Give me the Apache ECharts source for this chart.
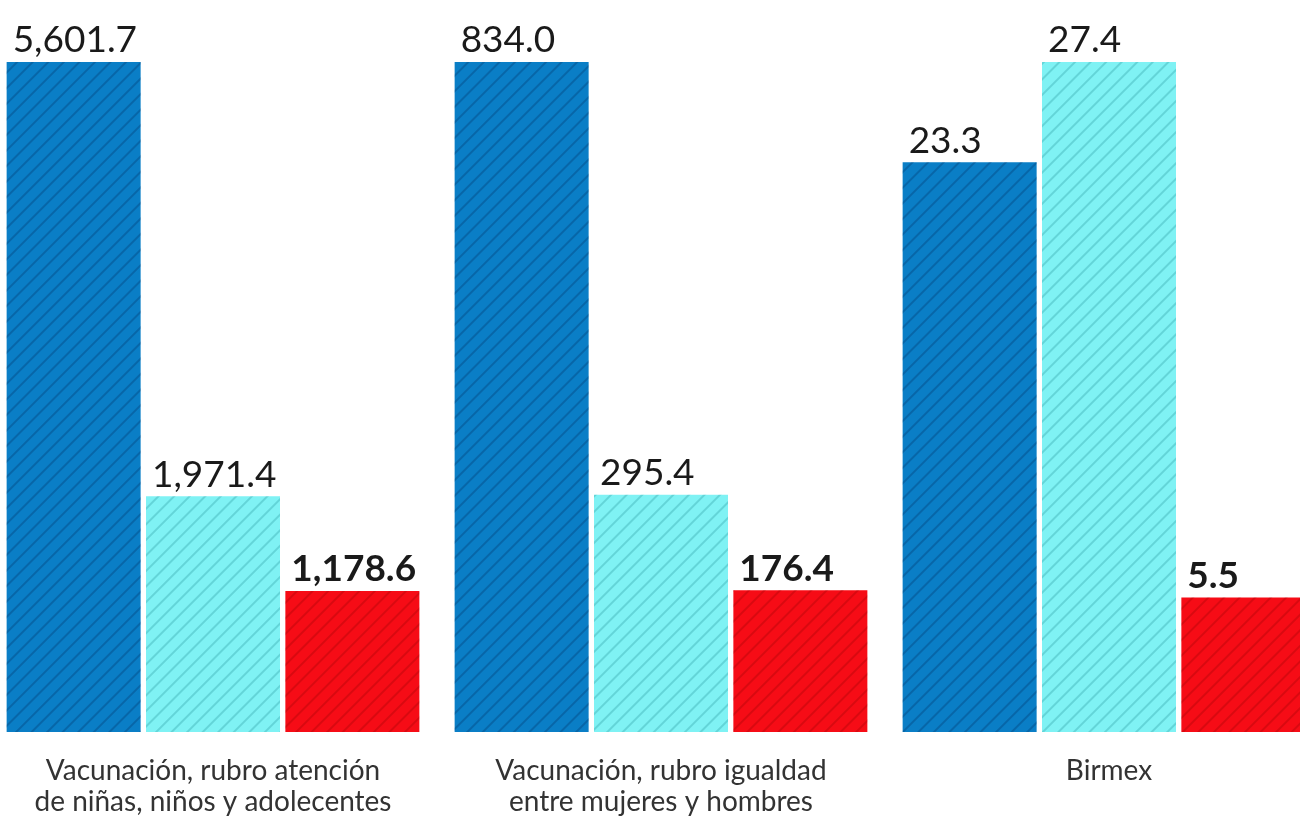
<!DOCTYPE html>
<html>
<head>
<meta charset="utf-8">
<script src="https://cdn.jsdelivr.net/npm/echarts@6/dist/echarts.min.js"></script>
<style>
  html, body { margin: 0; padding: 0; background: #fff; }
  #chart { width: 1300px; height: 820px; }
</style>
</head>
<body>
<div id="chart"></div>
<script>
// groups (each drawn on its own scale)
const categories = [
    'Vacunación, rubro atención\nde niñas, niños y adolecentes',
    'Vacunación, rubro igualdad\nentre mujeres y hombres',
    'Birmex'
];
const serieA = [5601.7, 834.0, 23.3];
const serieB = [1971.4, 295.4, 27.4];
const serieC = [1178.6, 176.4, 5.5];

const colors = ['#0a7ec6', '#7ff2f4', '#f60c16'];
const hatch = ['rgba(0,40,90,0.28)', 'rgba(0,110,120,0.22)', 'rgba(130,0,0,0.25)'];
// third group runs off the right edge, so its grid is centred on the bars
const gridBox = [[8, 410], [456, 410], [918, 382]];

function fmt(v) {
    return v.toLocaleString('en-US', { minimumFractionDigits: 1, maximumFractionDigits: 1 });
}

function initChart(dom) {
    let chart = echarts.init(dom);
    let grids = [], xAxes = [], yAxes = [], series = [];
    let values = [serieA, serieB, serieC];

    categories.forEach(function (cat, g) {
        grids.push({ left: gridBox[g][0], width: gridBox[g][1], top: 62, height: 670 });
        xAxes.push({
            type: 'category', gridIndex: g, data: [cat],
            axisLine: { show: false }, axisTick: { show: false },
            axisLabel: {
                margin: 23, fontSize: 28, lineHeight: 31, color: '#333',
                fontFamily: 'Lato', interval: 0
            }
        });
        yAxes.push({
            type: 'value', gridIndex: g, min: 0,
            max: Math.max(serieA[g], serieB[g], serieC[g]),
            show: false, splitLine: { show: false }
        });
        values.forEach(function (vals, s) {
            series.push({
                type: 'bar', xAxisIndex: g, yAxisIndex: g,
                barWidth: 134, barGap: '4%',
                clip: false,
                data: [vals[g]],
                itemStyle: {
                    color: colors[s],
                    decal: {
                        color: hatch[s],
                        dashArrayX: [1, 0],
                        dashArrayY: [2, 9],
                        rotation: -Math.PI / 4
                    }
                },
                label: {
                    show: true,
                    position: [6, -3],
                    align: 'left',
                    verticalAlign: 'bottom',
                    fontSize: 37,
                    fontFamily: 'Lato',
                    fontWeight: s === 2 ? 'bold' : 'normal',
                    color: '#1a1a1a',
                    formatter: function (p) { return fmt(p.value); }
                }
            });
        });
    });

    let option = {
        backgroundColor: '#fff',
        animation: false,
        grid: grids,
        xAxis: xAxes,
        yAxis: yAxes,
        series: series
    };

    option && chart.setOption(option);
}

initChart(document.getElementById('chart'));
</script>
</body>
</html>
